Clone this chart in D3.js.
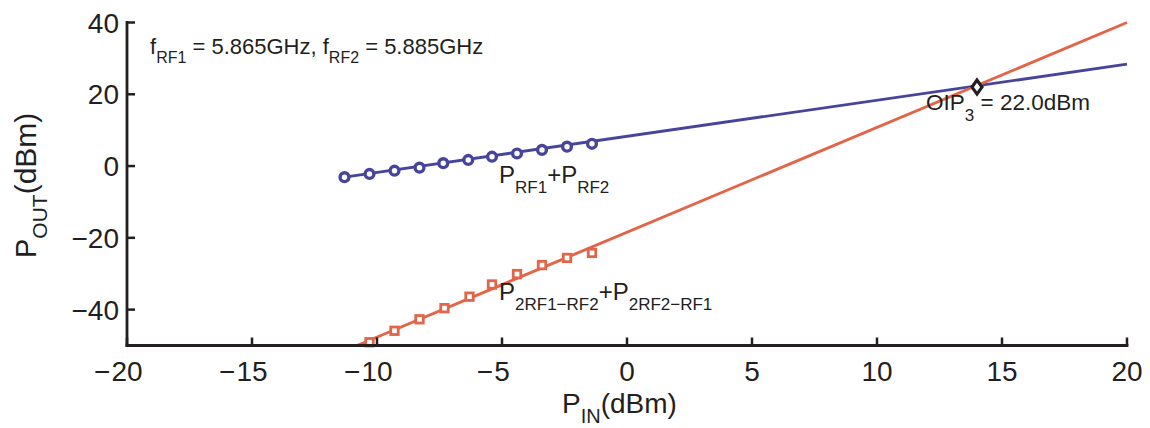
<!DOCTYPE html>
<html>
<head>
<meta charset="utf-8">
<script src="https://cdn.jsdelivr.net/npm/d3@7"></script>
<style>
  html, body { margin: 0; padding: 0; background: #fff; }
  svg { display: block; }
  text { font-family: "Liberation Sans", Arial, Helvetica, sans-serif; fill: #231f20; }
</style>
</head>
<body>
<svg id="chart" width="1150" height="428"></svg>
<script>
// ---- data ----
const xTicks = [-20, -15, -10, -5, 0, 5, 10, 15, 20];
const yTicks = [-40, -20, 0, 20, 40];
const xDomain = [-20, 20];
const yDomain = [-50, 40];

// fundamental output (P_RF1 + P_RF2), measured
const pinFund  = [-11.3, -10.3, -9.3, -8.3, -7.35, -6.35, -5.4, -4.4, -3.4, -2.4, -1.4];
const poutFund = [-3.1, -2.2, -1.3, -0.45, 0.8, 1.7, 2.6, 3.5, 4.5, 5.4, 6.2];

// third-order intermod output, measured
const pinIM3  = [-10.3, -9.3, -8.3, -7.3, -6.3, -5.4, -4.4, -3.4, -2.4, -1.4];
const poutIM3 = [-49.1, -45.9, -42.7, -39.6, -36.4, -33.0, -30.1, -27.6, -25.6, -24.2];

// fitted lines (end points)
const fundFitX = [-11.3, 20];
const fundFitY = [-3.1, 28.4];
const im3FitX  = [-10.8, 20];
const im3FitY  = [-50, 40];

// intercept point
const oip3In  = [14];
const oip3Out = [22.0];

// ---- layout ----
const svg = d3.select("#chart");
const M = { left: 127, right: 1127, top: 22.5, bottom: 345.5 };
const x = d3.scaleLinear().domain(xDomain).range([M.left, M.right]);
const y = d3.scaleLinear().domain(yDomain).range([M.bottom, M.top]);

const BLUE = "#47449b";
const RED = "#e2654a";
const AX = "#231f20";

// rich text helper: segments [{t, sub}]
function rich(g, px, py, segs, main, sub, shift, anchor) {
  const t = g.append("text").attr("x", px).attr("y", py)
    .attr("text-anchor", anchor || "start");
  let cur = 0;
  segs.forEach(s => {
    const target = s.sub ? shift : 0;
    const sz = s.size || (s.sub ? sub : main);
    t.append("tspan").attr("dy", target - cur).attr("font-size", sz).text(s.t);
    cur = target;
  });
  return t;
}

// ---- lines ----
const line = d3.line().x(d => x(d[0])).y(d => y(d[1]));
svg.append("path").datum(d3.zip(fundFitX, fundFitY))
  .attr("d", line).attr("fill", "none").attr("stroke", BLUE).attr("stroke-width", 2.9);
svg.append("path").datum(d3.zip(im3FitX, im3FitY))
  .attr("d", line).attr("fill", "none").attr("stroke", RED).attr("stroke-width", 2.9);

// ---- markers ----
svg.append("g").selectAll("circle").data(d3.zip(pinFund, poutFund)).join("circle")
  .attr("cx", d => x(d[0])).attr("cy", d => y(d[1])).attr("r", 4.4)
  .attr("fill", "#fff").attr("stroke", BLUE).attr("stroke-width", 3.4);

const sq = 7.5;
svg.append("g").selectAll("rect").data(d3.zip(pinIM3, poutIM3)).join("rect")
  .attr("x", d => x(d[0]) - sq / 2).attr("y", d => y(d[1]) - sq / 2)
  .attr("width", sq).attr("height", sq)
  .attr("fill", "#fff").attr("stroke", RED).attr("stroke-width", 2.8);

// diamond at OIP3
svg.append("g").selectAll("path").data(d3.zip(oip3In, oip3Out)).join("path")
  .attr("d", d => {
    const cx = x(d[0]), cy = y(d[1]);
    return `M${cx},${cy - 7}L${cx + 5},${cy}L${cx},${cy + 7}L${cx - 5},${cy}Z`;
  })
  .attr("fill", "#fff").attr("stroke", AX).attr("stroke-width", 3.2);

// ---- axes ----
const axG = svg.append("g");
axG.append("line").attr("x1", x(xDomain[0])).attr("x2", x(xDomain[1]))
  .attr("y1", y(yDomain[0])).attr("y2", y(yDomain[0]))
  .attr("stroke", AX).attr("stroke-width", 2.8).attr("stroke-linecap", "square");
axG.append("line").attr("x1", x(xDomain[0])).attr("x2", x(xDomain[0]))
  .attr("y1", y(yDomain[0])).attr("y2", y(yDomain[1]))
  .attr("stroke", AX).attr("stroke-width", 2.8).attr("stroke-linecap", "square");

// x ticks (inward)
axG.selectAll(".xt").data(xTicks).join("line")
  .attr("x1", d => x(d)).attr("x2", d => x(d))
  .attr("y1", y(yDomain[0])).attr("y2", y(yDomain[0]) - 8)
  .attr("stroke", AX).attr("stroke-width", 2.5);
// y ticks (inward)
axG.selectAll(".yt").data(yTicks).join("line")
  .attr("x1", x(xDomain[0])).attr("x2", x(xDomain[0]) + 8)
  .attr("y1", d => y(d)).attr("y2", d => y(d))
  .attr("stroke", AX).attr("stroke-width", 2.5);

const TICK_FS = 28;
// x tick labels: digits centred on tick, minus hanging left
xTicks.forEach(v => {
  const tx = x(v), ty = y(yDomain[0]) + 35;
  const t = axG.append("text").attr("x", tx).attr("y", ty)
    .attr("text-anchor", "middle").attr("font-size", TICK_FS).text(Math.abs(v));
  if (v < 0) {
    const w = t.node().getComputedTextLength();
    axG.append("text").attr("x", tx - w / 2 - 1).attr("y", ty)
      .attr("text-anchor", "end").attr("font-size", TICK_FS).text("\u2212");
  }
});
// y tick labels
axG.selectAll(".yl").data(yTicks).join("text")
  .attr("x", x(xDomain[0]) - 8).attr("y", d => y(d) + 10)
  .attr("text-anchor", "end").attr("font-size", TICK_FS)
  .text(d => d < 0 ? "\u2212" + Math.abs(d) : d);

// ---- axis titles ----
rich(svg, 562, 413, [
  { t: "P", size: 28 }, { t: "IN", sub: true }, { t: "(dBm)", size: 28 }
], 28, 20, 10, "start");

const yl = svg.append("g").attr("transform", "translate(36,258) rotate(-90)");
rich(yl, 0, 0, [
  { t: "P", size: 29 }, { t: "OUT", sub: true }, { t: "(dBm)", size: 30 }
], 29, 21, 11, "start");

// ---- annotations ----
rich(svg, 150, 54, [
  { t: "f" }, { t: "RF1", sub: true }, { t: " = 5.865GHz, f" }, { t: "RF2", sub: true }, { t: " = 5.885GHz" }
], 22, 16, 9, "start");

rich(svg, 499, 183, [
  { t: "P" }, { t: "RF1", sub: true }, { t: "+P" }, { t: "RF2", sub: true }
], 24, 17, 10, "start");

rich(svg, 499, 300, [
  { t: "P" }, { t: "2RF1\u2212RF2", sub: true }, { t: "+P" }, { t: "2RF2\u2212RF1", sub: true }
], 24, 17, 10, "start");

rich(svg, 926, 110, [
  { t: "OIP" }, { t: "3", sub: true }, { t: " = 22.0dBm" }
], 22.5, 17, 11, "start");
</script>
</body>
</html>
